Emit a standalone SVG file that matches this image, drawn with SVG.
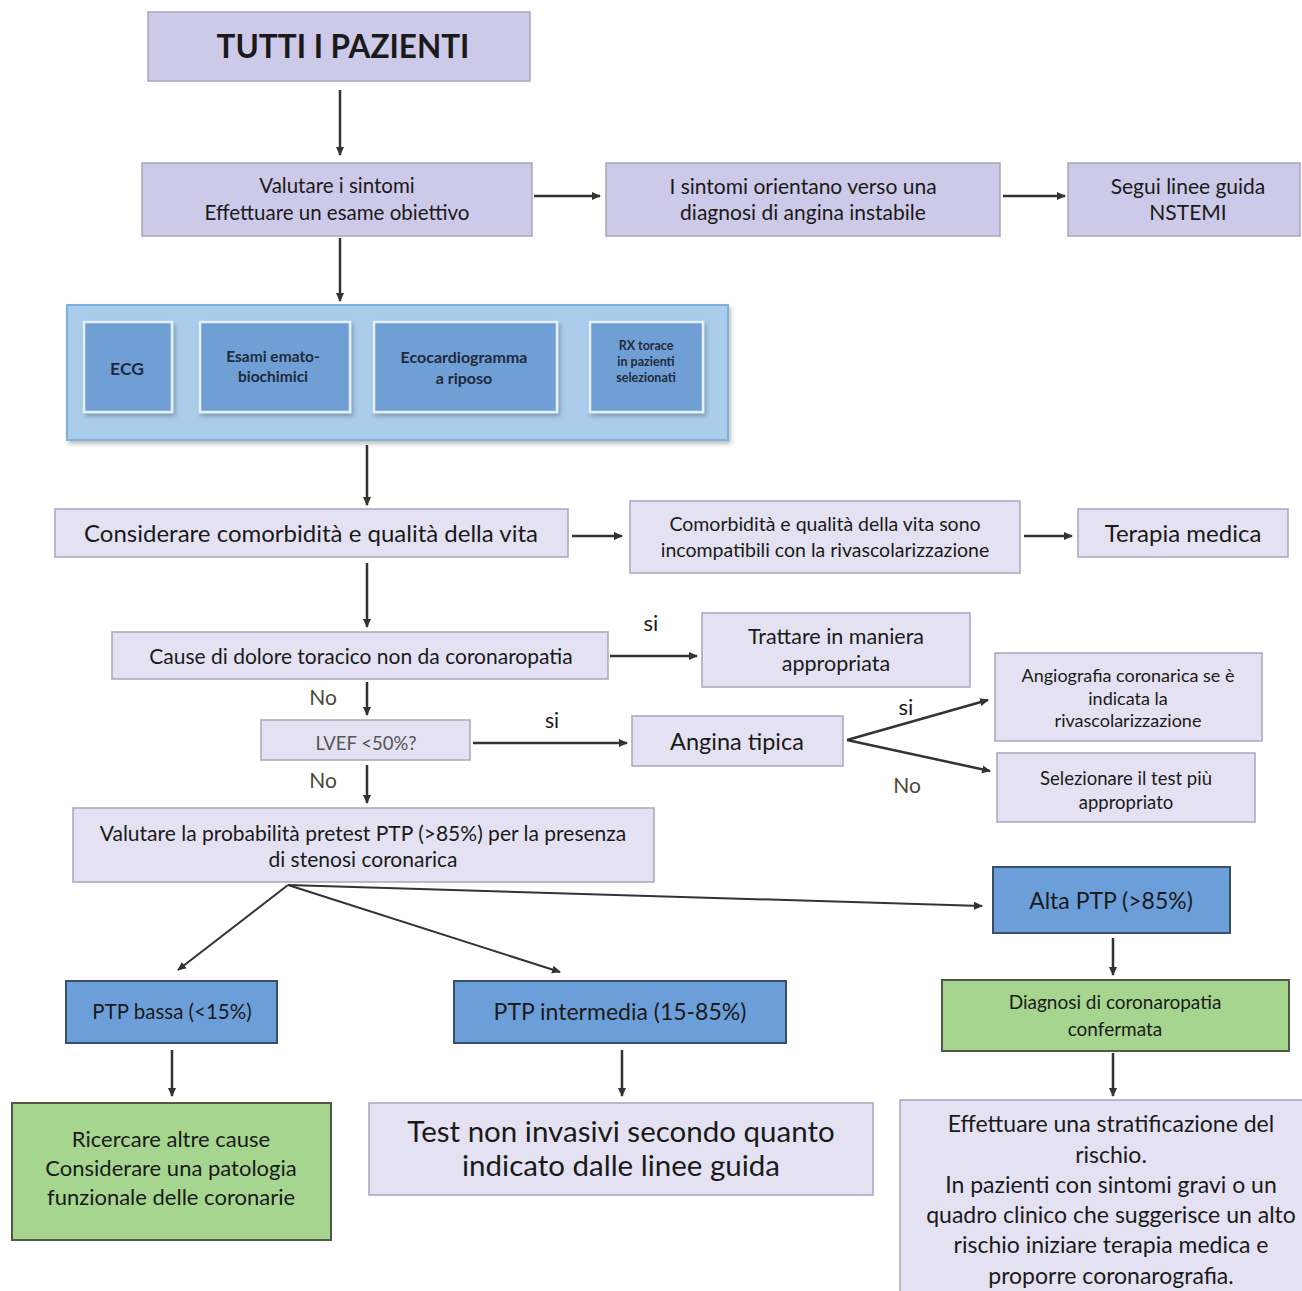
<svg xmlns="http://www.w3.org/2000/svg" width="1302" height="1291" viewBox="0 0 1302 1291">
<defs>
<marker id="ah" markerWidth="10" markerHeight="10" refX="8" refY="5" orient="auto" markerUnits="userSpaceOnUse">
<path d="M0,1 L9,5 L0,9 Z" fill="#333"/>
</marker>
<filter id="sh" x="-10%" y="-10%" width="130%" height="140%">
<feDropShadow dx="2" dy="3" stdDeviation="2" flood-color="#000" flood-opacity="0.25"/>
</filter>
</defs>
<style>
text{font-family:Lato,"Open Sans","Liberation Sans",sans-serif;fill:#1a1a1a;text-anchor:middle;dominant-baseline:middle;transform:translateY(2px)}
.lav{fill:#cdc9e8;stroke:#a8a5bf;stroke-width:1.5}
.lt{fill:#e4e2f2}
.blue{fill:#6c9fda;stroke:#3b4f6b;stroke-width:2}
.green{fill:#a5d58e;stroke:#4d5a45;stroke-width:2}
.inner{fill:#6f9fd6;stroke:#e6f0fa;stroke-width:2.5}
.c{stroke:#333;stroke-width:2.5;fill:none;marker-end:url(#ah)}
.d{stroke-width:2}
.b{font-weight:bold}
.ib{font-weight:bold;fill:#1f2a3a}
.no{fill:#4a4a3a}
</style>
<rect width="1302" height="1291" fill="#ffffff"/>

<g id="connectors">
<line class="c" x1="340" y1="90" x2="340" y2="155"/>
<line class="c" x1="534" y1="196" x2="600" y2="196"/>
<line class="c" x1="1003" y1="196" x2="1065" y2="196"/>
<line class="c" x1="340" y1="238" x2="340" y2="301"/>
<line class="c" x1="367" y1="445" x2="367" y2="505"/>
<line class="c" x1="572" y1="536" x2="622" y2="536"/>
<line class="c" x1="1024" y1="536" x2="1072" y2="536"/>
<line class="c" x1="367" y1="563" x2="367" y2="627"/>
<line class="c" x1="610" y1="656" x2="697" y2="656"/>
<line class="c" x1="367" y1="682" x2="367" y2="715"/>
<line class="c" x1="473" y1="743" x2="627" y2="743"/>
<line class="c" x1="847" y1="740" x2="988" y2="700"/>
<line class="c" x1="847" y1="740" x2="990" y2="771"/>
<line class="c" x1="367" y1="765" x2="367" y2="803"/>
<line class="c d" x1="288" y1="885" x2="178" y2="970"/>
<line class="c d" x1="288" y1="885" x2="560" y2="972"/>
<line class="c d" x1="288" y1="885" x2="982" y2="906"/>
<line class="c" x1="1113" y1="938" x2="1113" y2="975"/>
<line class="c" x1="1113" y1="1053" x2="1113" y2="1096"/>
<line class="c" x1="172" y1="1050" x2="172" y2="1096"/>
<line class="c" x1="622" y1="1050" x2="622" y2="1096"/>
<text x="651" y="623" font-size="22">si</text>
<text x="323" y="698" font-size="21" class="no">No</text>
<text x="552" y="721" font-size="21">si</text>
<text x="906" y="707" font-size="22">si</text>
<text x="907" y="786" font-size="21" class="no">No</text>
<text x="323" y="781" font-size="21" class="no">No</text>
</g>

<g id="n-tutti">
<rect class="lav" x="148" y="12" width="382" height="69"/>
<text class="b" x="343" y="48" font-size="31.5">TUTTI I PAZIENTI</text>
</g>

<g id="n-valutare">
<rect class="lav" x="142" y="163" width="390" height="73"/>
<text x="337" y="186" font-size="20.5">Valutare i sintomi</text>
<text x="337" y="213" font-size="20.5">Effettuare un esame obiettivo</text>
</g>

<g id="n-sintomi">
<rect class="lav" x="606" y="163" width="394" height="73"/>
<text x="803" y="187" font-size="21">I sintomi orientano verso una</text>
<text x="803" y="213" font-size="21">diagnosi di angina instabile</text>
</g>

<g id="n-nstemi">
<rect class="lav" x="1068" y="163" width="232" height="73"/>
<text x="1188" y="187" font-size="21">Segui linee guida</text>
<text x="1188" y="213" font-size="21">NSTEMI</text>
</g>

<g id="n-esami">
<rect x="67" y="305" width="661" height="135" fill="#a9cdeb" stroke="#7fb0dc" stroke-width="2" filter="url(#sh)"/>
<rect class="inner" x="84" y="322" width="88" height="90" filter="url(#sh)"/>
<text class="ib" x="127" y="369" font-size="17.5">ECG</text>
<rect class="inner" x="200" y="322" width="150" height="90" filter="url(#sh)"/>
<text class="ib" x="273" y="356" font-size="15.5">Esami emato-</text>
<text class="ib" x="273" y="376" font-size="15.5">biochimici</text>
<rect class="inner" x="374" y="322" width="183" height="90" filter="url(#sh)"/>
<text class="ib" x="464" y="357" font-size="16">Ecocardiogramma</text>
<text class="ib" x="464" y="378" font-size="16">a riposo</text>
<rect class="inner" x="590" y="322" width="113" height="90" filter="url(#sh)"/>
<text class="ib" x="646" y="345" font-size="12.5">RX torace</text>
<text class="ib" x="646" y="361" font-size="12.5">in pazienti</text>
<text class="ib" x="646" y="377" font-size="12.5">selezionati</text>
</g>

<g id="n-comorb">
<rect class="lav lt" x="55" y="509" width="513" height="48"/>
<text x="311" y="534" font-size="24">Considerare comorbidità e qualità della vita</text>
</g>

<g id="n-incomp">
<rect class="lav lt" x="630" y="501" width="390" height="72"/>
<text x="825" y="524" font-size="19.5">Comorbidità e qualità della vita sono</text>
<text x="825" y="550" font-size="19.5">incompatibili con la rivascolarizzazione</text>
</g>

<g id="n-terapia">
<rect class="lav lt" x="1078" y="509" width="210" height="48"/>
<text x="1183" y="534" font-size="24">Terapia medica</text>
</g>

<g id="n-cause">
<rect class="lav lt" x="112" y="632" width="496" height="47"/>
<text x="361" y="657" font-size="21">Cause di dolore toracico non da coronaropatia</text>
</g>

<g id="n-trattare">
<rect class="lav lt" x="702" y="613" width="268" height="74"/>
<text x="836" y="637" font-size="21.5">Trattare in maniera</text>
<text x="836" y="664" font-size="21.5">appropriata</text>
</g>

<g id="n-lvef">
<rect class="lav lt" x="261" y="720" width="209" height="40"/>
<text x="366" y="743" font-size="18.5" style="fill:#555">LVEF &lt;50%?</text>
</g>

<g id="n-angina">
<rect class="lav lt" x="632" y="716" width="211" height="50"/>
<text x="737" y="742" font-size="23.5">Angina tipica</text>
</g>

<g id="n-angiografia">
<rect class="lav lt" x="995" y="653" width="267" height="88"/>
<text x="1128" y="675" font-size="18">Angiografia coronarica se è</text>
<text x="1128" y="698" font-size="18">indicata la</text>
<text x="1128" y="720" font-size="18">rivascolarizzazione</text>
</g>

<g id="n-selezionare">
<rect class="lav lt" x="997" y="753" width="258" height="69"/>
<text x="1126" y="778" font-size="18.5">Selezionare il test più</text>
<text x="1126" y="802" font-size="18.5">appropriato</text>
</g>

<g id="n-ptp">
<rect class="lav lt" x="73" y="808" width="581" height="74"/>
<text x="363" y="834" font-size="21">Valutare la probabilità pretest PTP (&gt;85%) per la presenza</text>
<text x="363" y="860" font-size="21">di stenosi coronarica</text>
</g>

<g id="n-alta">
<rect class="blue" x="993" y="867" width="237" height="66"/>
<text x="1111" y="901" font-size="23">Alta PTP (&gt;85%)</text>
</g>

<g id="n-diagnosi">
<rect class="green" x="942" y="980" width="347" height="71"/>
<text x="1115" y="1002" font-size="19">Diagnosi di coronaropatia</text>
<text x="1115" y="1029" font-size="19">confermata</text>
</g>

<g id="n-strat">
<rect class="lav lt" x="900" y="1100" width="410" height="200"/>
<text x="1111" y="1124" font-size="23">Effettuare una stratificazione del</text>
<text x="1111" y="1155" font-size="23">rischio.</text>
<text x="1111" y="1185" font-size="23">In pazienti con sintomi gravi o un</text>
<text x="1111" y="1215" font-size="23">quadro clinico che suggerisce un alto</text>
<text x="1111" y="1245" font-size="23">rischio iniziare terapia medica e</text>
<text x="1111" y="1276" font-size="23">proporre coronarografia.</text>
</g>

<g id="n-bassa">
<rect class="blue" x="66" y="981" width="211" height="62"/>
<text x="172" y="1012" font-size="20.5">PTP bassa (&lt;15%)</text>
</g>

<g id="n-intermedia">
<rect class="blue" x="454" y="981" width="332" height="62"/>
<text x="620" y="1012" font-size="23">PTP intermedia (15-85%)</text>
</g>

<g id="n-ricercare">
<rect class="green" x="12" y="1103" width="319" height="137"/>
<text x="171" y="1139" font-size="22">Ricercare altre cause</text>
<text x="171" y="1168" font-size="22">Considerare una patologia</text>
<text x="171" y="1197" font-size="22">funzionale delle coronarie</text>
</g>

<g id="n-test">
<rect class="lav lt" x="369" y="1103" width="504" height="92"/>
<text x="621" y="1133" font-size="29.5">Test non invasivi  secondo quanto</text>
<text x="621" y="1167" font-size="29.5">indicato dalle linee guida</text>
</g>
</svg>
